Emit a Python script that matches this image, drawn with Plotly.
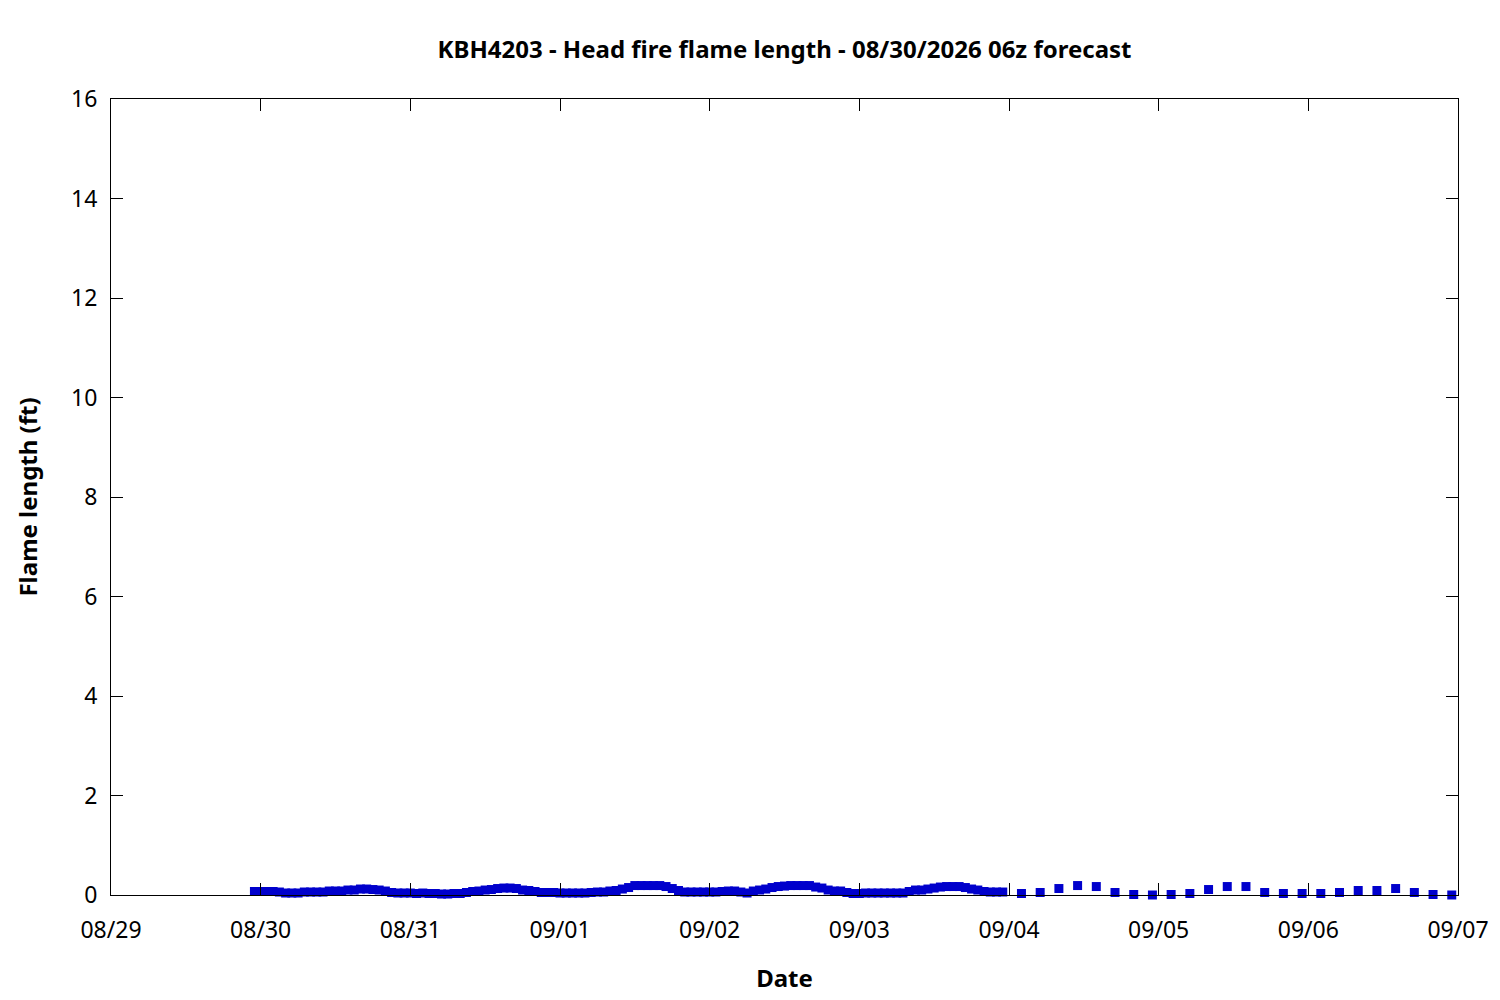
import pandas as pd
import plotly.graph_objects as go

# hourly flame length (ft), 08/29 23:00 -> 09/03 23:00
hourly_start = "2026-08-29 23:00"
hourly_ft = [
    0.07,
    # 08/30
    0.07, 0.07, 0.07, 0.06, 0.04, 0.04, 0.04, 0.06, 0.06, 0.06, 0.06, 0.08,
    0.08, 0.08, 0.10, 0.10, 0.12, 0.12, 0.11, 0.10, 0.08, 0.05, 0.04, 0.04,
    # 08/31
    0.04, 0.03, 0.04, 0.03, 0.03, 0.02, 0.02, 0.03, 0.03, 0.05, 0.07, 0.08,
    0.10, 0.11, 0.13, 0.14, 0.14, 0.13, 0.10, 0.09, 0.07, 0.05, 0.05, 0.05,
    # 09/01
    0.04, 0.04, 0.04, 0.04, 0.04, 0.05, 0.06, 0.06, 0.08, 0.09, 0.12, 0.15,
    0.19, 0.19, 0.19, 0.19, 0.19, 0.17, 0.13, 0.09, 0.06, 0.06, 0.06, 0.06,
    # 09/02
    0.06, 0.06, 0.07, 0.08, 0.08, 0.06, 0.04, 0.08, 0.10, 0.12, 0.15, 0.17,
    0.18, 0.19, 0.19, 0.19, 0.19, 0.16, 0.14, 0.10, 0.08, 0.08, 0.05, 0.03,
    # 09/03
    0.03, 0.04, 0.04, 0.04, 0.04, 0.04, 0.04, 0.04, 0.07, 0.10, 0.10, 0.12,
    0.14, 0.16, 0.17, 0.17, 0.17, 0.15, 0.12, 0.10, 0.07, 0.06, 0.06, 0.06,
]

# 3-hourly flame length (ft), 09/04 02:00 -> 09/06 23:00
three_hourly_start = "2026-09-04 02:00"
three_hourly_ft = [
    0.03, 0.05, 0.13, 0.19, 0.17, 0.05, 0.01, 0.00,
    0.01, 0.03, 0.11, 0.17, 0.17, 0.05, 0.03, 0.03,
    0.03, 0.05, 0.09, 0.09, 0.13, 0.05, 0.01, 0.00,
]

times = list(pd.date_range(hourly_start, periods=len(hourly_ft), freq="h")) + \
    list(pd.date_range(three_hourly_start, periods=len(three_hourly_ft), freq="3h"))
values = hourly_ft + three_hourly_ft

font = "Noto Sans"

fig = go.Figure()
fig.add_trace(go.Scatter(
    x=times, y=values, mode="markers",
    marker=dict(symbol="square", size=9, color="#0000cc", line=dict(width=0)),
    showlegend=False, cliponaxis=False,
))

axis_common = dict(
    showgrid=False, zeroline=False,
    showline=True, linecolor="black", linewidth=1, mirror="ticks",
    ticks="inside", ticklen=12, tickcolor="black", tickwidth=1,
    tickfont=dict(family=font, size=23, color="black"),
)

fig.update_layout(
    width=1500, height=1000,
    margin=dict(l=103, r=50, t=91, b=113),
    plot_bgcolor="white", paper_bgcolor="white",
    font=dict(family=font, color="black"),
    title=dict(
        text="<b>KBH4203 - Head fire flame length - 08/30/2026 06z forecast</b>",
        x=0.5, xref="paper", xanchor="center", y=0.958, yanchor="middle",
        font=dict(family=font, size=24),
    ),
    xaxis=dict(
        axis_common, type="date",
        range=["2026-08-29", "2026-09-07"],
        dtick=86400000, tick0="2026-08-29", tickformat="%m/%d",
        ticklabelstandoff=14,
        title=dict(text="<b>Date</b>", font=dict(family=font, size=24), standoff=26),
    ),
    yaxis=dict(
        axis_common, range=[0, 16], dtick=2,
        ticklabelstandoff=8,
        title=dict(text="<b>Flame length (ft)</b>", font=dict(family=font, size=24), standoff=26),
    ),
)

fig.write_html("out.html")
